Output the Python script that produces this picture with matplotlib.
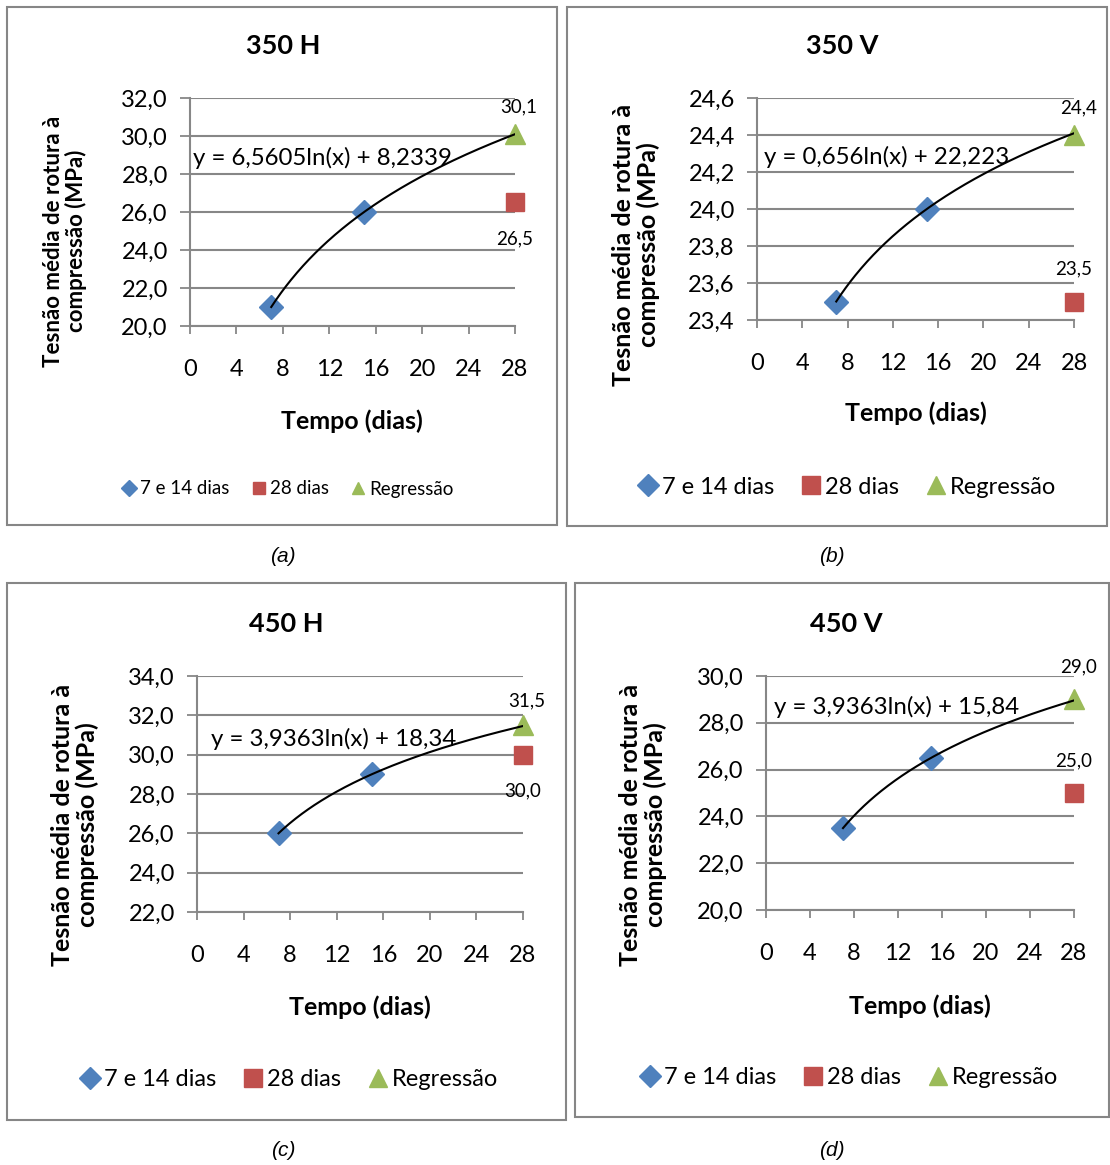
import numpy as np
import matplotlib
matplotlib.use('Agg')
import matplotlib.pyplot as plt
from matplotlib.patches import Rectangle
from matplotlib.lines import Line2D

W, H = 1110, 1165
plt.rcParams['font.family'] = ['Lato', 'DejaVu Sans']

# ---------------- data ----------------
titles = ['350 H', '350 V', '450 H', '450 V']
captions = ['(a)', '(b)', '(c)', '(d)']
series_names = ['7 e 14 dias', '28 dias', 'Regressão']
days_early = [7, 15]
day_late = [28]

early_vals = [[21.0, 26.0], [23.5, 24.0], [26.0, 29.0], [23.5, 26.5]]
late_vals = [[26.5], [23.5], [30.0], [25.0]]
reg_vals = [[30.1], [24.4], [31.5], [29.0]]
late_labels = ['26,5', '23,5', '30,0', '25,0']
reg_labels = ['30,1', '24,4', '31,5', '29,0']
equations = ['y = 6,5605ln(x) + 8,2339', 'y = 0,656ln(x) + 22,223',
             'y = 3,9363ln(x) + 18,34', 'y = 3,9363ln(x) + 15,84']

xticks = [0, 4, 8, 12, 16, 20, 24, 28]
yticks = [[20, 22, 24, 26, 28, 30, 32],
          [23.4, 23.6, 23.8, 24.0, 24.2, 24.4, 24.6],
          [22, 24, 26, 28, 30, 32, 34],
          [20, 22, 24, 26, 28, 30]]
ytick_labels = [['20,0', '22,0', '24,0', '26,0', '28,0', '30,0', '32,0'],
                ['23,4', '23,6', '23,8', '24,0', '24,2', '24,4', '24,6'],
                ['22,0', '24,0', '26,0', '28,0', '30,0', '32,0', '34,0'],
                ['20,0', '22,0', '24,0', '26,0', '28,0', '30,0']]
xlabel = 'Tempo (dias)'
ylabel = 'Tesnão média de rotura à\ncompressão (MPa)'

# ---------------- layout (pixels) ----------------
boxes = [(7, 7, 557, 525), (567, 7, 1107, 526), (7, 583, 566, 1120), (575, 583, 1109, 1117)]
plots = [(190, 98, 515, 326), (757, 98, 1074, 320), (197, 676, 523, 912), (766, 676, 1074, 910)]
title_pos = [(283, 46), (842, 46), (286, 624), (846, 624)]
ylab_pos = [(65, 241), (636, 245), (75, 825), (643, 825)]
ylab_size = [16, 18, 18, 18]
xlab_pos = [(352, 421), (916, 413), (360, 1007), (920, 1006)]
leg_pos = [(288, 489), (848, 487), (290, 1080), (850, 1078)]
leg_size = [13.5, 17, 17, 17]
leg_ms = [9, 13, 13, 13]
eq_pos = [(193, 158), (764, 157), (211, 739), (774, 707)]
cap_pos = [(283, 557), (832, 557), (283, 1150), (832, 1150)]
late_off = [-36, 33, -36, 32]
reg_off = [27, 27, 24, 33]

BLUE = '#4F81BD'
RED = '#C0504D'
GREEN = '#9BBB59'
GRID = '#878787'

fig = plt.figure(figsize=(W / 100, H / 100), dpi=100)


def fx(x):
    return x / W


def fy(y):
    return 1 - y / H


for i in range(4):
    # panel frame
    x0, y0, x1, y1 = boxes[i]
    fig.patches.append(Rectangle((fx(x0), fy(y1)), fx(x1 - x0), (y1 - y0) / H,
                                 transform=fig.transFigure, fill=False,
                                 edgecolor='#868686', lw=1.5, zorder=0))
    px0, py0, px1, py1 = plots[i]
    ax = fig.add_axes([fx(px0), fy(py1), fx(px1 - px0), (py1 - py0) / H])
    ax.set_xlim(0, 28)
    ax.set_ylim(yticks[i][0], yticks[i][-1])
    ax.set_xticks(xticks)
    ax.set_xticklabels([str(t) for t in xticks])
    ax.set_yticks(yticks[i])
    ax.set_yticklabels(ytick_labels[i])
    ax.tick_params(axis='x', direction='out', length=6, width=1.3, color=GRID,
                   pad=18, labelsize=17)
    ax.tick_params(axis='y', direction='out', length=7, width=1.3, color=GRID,
                   pad=9, labelsize=17)
    for s in ['top', 'right']:
        ax.spines[s].set_visible(False)
    for s in ['left', 'bottom']:
        ax.spines[s].set_color(GRID)
        ax.spines[s].set_linewidth(1.5)
    ax.yaxis.grid(True, color=GRID, lw=1.5)
    ax.set_axisbelow(True)

    # trendline (log regression through early data)
    coef = np.polyfit(np.log(days_early), early_vals[i], 1)
    xs = np.linspace(days_early[0], day_late[0], 200)
    ax.plot(xs, coef[0] * np.log(xs) + coef[1], color='black', lw=1.5, zorder=4)

    ax.plot(days_early, early_vals[i], ls='none', marker='D', ms=12, color=BLUE,
            mec=BLUE, zorder=3, clip_on=False)
    ax.plot(day_late, late_vals[i], ls='none', marker='s', ms=13.5, color=RED,
            mec=RED, zorder=3, clip_on=False)
    ax.plot(day_late, reg_vals[i], ls='none', marker='^', ms=14, color=GREEN,
            mec=GREEN, zorder=3, clip_on=False)

    ax.annotate(late_labels[i], (day_late[0], late_vals[i][0]), xytext=(0, late_off[i] / 1.389),
                textcoords='offset points', ha='center', va='center', fontsize=13.5,
                annotation_clip=False)
    ax.annotate(reg_labels[i], (day_late[0], reg_vals[i][0]), xytext=(3, reg_off[i] / 1.389),
                textcoords='offset points', ha='center', va='center', fontsize=13.5,
                annotation_clip=False)

    fig.text(fx(eq_pos[i][0]), fy(eq_pos[i][1]), equations[i], ha='left', va='center',
             fontsize=17.3)
    fig.text(fx(title_pos[i][0]), fy(title_pos[i][1]), titles[i], ha='center', va='center',
             fontsize=19.5, fontweight='bold')
    fig.text(fx(ylab_pos[i][0]), fy(ylab_pos[i][1]), ylabel, ha='center', va='center',
             rotation=90, fontsize=ylab_size[i], fontweight='bold', linespacing=1.1,
             multialignment='center')
    fig.text(fx(xlab_pos[i][0]), fy(xlab_pos[i][1]), xlabel, ha='center', va='center',
             fontsize=18, fontweight='bold')
    fig.text(fx(cap_pos[i][0]), fy(cap_pos[i][1]), captions[i], ha='center', va='center',
             fontsize=15, fontstyle='italic', family=['Liberation Sans', 'DejaVu Sans'])

    handles = [Line2D([], [], ls='none', marker='D', color=BLUE, ms=leg_ms[i] * 0.85),
               Line2D([], [], ls='none', marker='s', color=RED, ms=leg_ms[i]),
               Line2D([], [], ls='none', marker='^', color=GREEN, ms=leg_ms[i])]
    fig.legend(handles, series_names, loc='center',
               bbox_to_anchor=(fx(leg_pos[i][0]), fy(leg_pos[i][1])),
               ncol=3, frameon=False, fontsize=leg_size[i], handlelength=0.7,
               handletextpad=0.25, columnspacing=1.2, borderpad=0)

fig.savefig('out.png', dpi=100, facecolor='white')
